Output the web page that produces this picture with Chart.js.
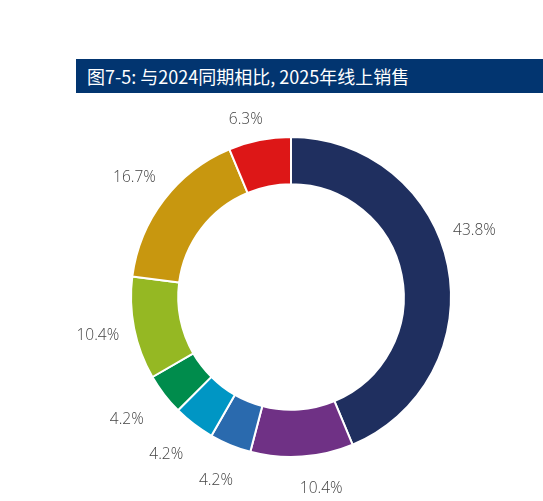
<!DOCTYPE html>
<html>
<head>
<meta charset="utf-8">
<script src="https://cdn.jsdelivr.net/npm/chart.js@4"></script>
<style>
  html, body { margin: 0; padding: 0; background: #fff; }
  #wrap { position: relative; width: 543px; height: 501px; }
  #title {
    position: absolute; left: 76px; top: 59px; width: 467px; height: 34px;
    background: #023570; color: #fff;
    font-family: "Noto Sans CJK SC", "Noto Sans", sans-serif; font-size: 18px;
    line-height: 34px; padding-left: 11px; box-sizing: border-box; white-space: nowrap;
  }
  canvas { position: absolute; left: 0; top: 0; }
</style>
</head>
<body>
<div id="wrap">
  <canvas id="myChart" width="543" height="501"></canvas>
  <div id="title">图7-5: 与2024同期相比, 2025年线上销售</div>
</div>
<script>
// slice data, clockwise from 12 o'clock
const categories = ['分类1', '分类2', '分类3', '分类4', '分类5', '分类6', '分类7', '分类8'];
const shares = [43.8, 10.4, 4.2, 4.2, 4.2, 10.4, 16.7, 6.3];
const sliceColors = ['#1f2f5f', '#6f3185', '#2a6aae', '#0096c4', '#008c4c', '#95b823', '#c8970f', '#dd1717'];
// small nudges for label placement: angle (degrees) and radial distance (px)
const labelNudge = [-8.5, -5, 0, 1, 0.8, 0, 0, -3];
const labelPush = [0, -1, 3, 6, 10, 2, 2, -12];

const outsideLabels = {
  id: 'outsideLabels',
  afterDatasetsDraw(chart) {
    const ctx = chart.ctx;
    const meta = chart.getDatasetMeta(0);
    ctx.save();
    ctx.font = '300 15.5px "Open Sans", "Noto Sans", sans-serif';
    ctx.fillStyle = '#444444';
    ctx.textAlign = 'center';
    ctx.textBaseline = 'middle';
    meta.data.forEach((arc, i) => {
      const mid = (arc.startAngle + arc.endAngle) / 2 + labelNudge[i] * Math.PI / 180;
      const d = arc.outerRadius + 35 + labelPush[i];
      ctx.fillText(shares[i].toFixed(1) + '%', arc.x + Math.cos(mid) * d, arc.y + Math.sin(mid) * d);
    });
    ctx.restore();
  }
};

const ctx = document.getElementById('myChart').getContext('2d');
new Chart(ctx, {
  type: 'doughnut',
  data: {
    labels: categories,
    datasets: [{
      data: shares,
      backgroundColor: sliceColors,
      borderColor: '#ffffff',
      borderWidth: 2
    }]
  },
  options: {
    responsive: false,
    animation: false,
    cutout: '70.5%',
    layout: { padding: { left: 130, right: 91, top: 136, bottom: 43 } },
    plugins: {
      legend: { display: false },
      tooltip: { enabled: false }
    }
  },
  plugins: [outsideLabels]
});
</script>
</body>
</html>
